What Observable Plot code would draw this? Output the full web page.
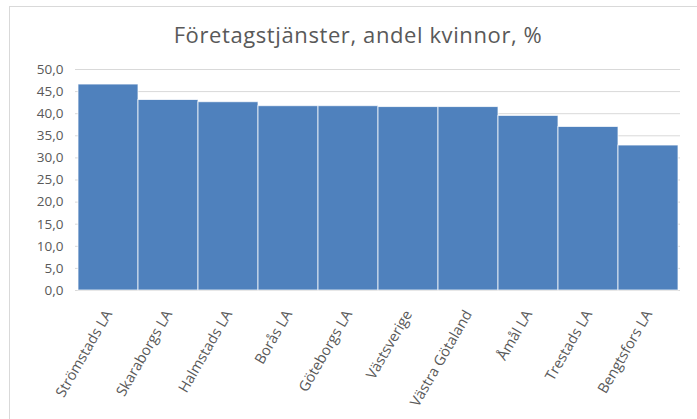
<!DOCTYPE html>
<html>
<head>
<meta charset="utf-8">
<script src="https://cdn.jsdelivr.net/npm/d3@7"></script>
<script src="https://cdn.jsdelivr.net/npm/@observablehq/plot@0.6"></script>
<style>
  html, body { margin: 0; padding: 0; background: #fff; }
  #wrap { position: relative; width: 697px; height: 419px; overflow: hidden; }
  #frame { position: absolute; left: 9px; top: 6px; width: 700px; height: 430px; border-left: 1px solid #d9d9d9; border-top: 1px solid #d9d9d9; box-sizing: border-box; pointer-events: none; }
  #chart { position: absolute; left: 0; top: 0; }
  #chart svg g[aria-label="text"] text { letter-spacing: 0.6px; }
</style>
</head>
<body>
<div id="wrap"><div id="frame"></div><div id="chart"></div></div>
<script>
const title = "Företagstjänster, andel kvinnor, %";
const categories = ["Strömstads LA", "Skaraborgs LA", "Halmstads LA", "Borås LA", "Göteborgs LA", "Västsverige", "Västra Götaland", "Åmål LA", "Trestads LA", "Bengtsfors LA"];
const values = [46.6, 43.1, 42.6, 41.7, 41.7, 41.5, 41.5, 39.5, 37.0, 32.8];
const yTicks = [0, 5, 10, 15, 20, 25, 30, 35, 40, 45, 50];

const data = categories.map((c, i) => ({category: c, value: values[i]}));
const fmt = v => v.toFixed(1).replace(".", ",");
const font = "'Open Sans', sans-serif";

const chart = Plot.plot({
  width: 697,
  height: 419,
  marginLeft: 75,
  marginRight: 17,
  marginTop: 69,
  marginBottom: 129,
  style: {fontFamily: font, background: "transparent", color: "#595959"},
  x: {domain: categories, padding: 0, label: null},
  y: {domain: [0, 50], label: null},
  marks: [
    Plot.gridY(yTicks, {stroke: "#d9d9d9", strokeOpacity: 1, strokeWidth: 1}),
    Plot.barY(data, {x: "category", y: "value", fill: "#4f81bd", stroke: "#ffffff", strokeWidth: 1, strokeOpacity: 0.75, inset: 0}),
    Plot.axisY(yTicks, {tickSize: 0, tickPadding: 12, tickFormat: fmt, fontSize: 13.5, fill: "#595959", label: null}),
    Plot.axisX({tickSize: 0, tickRotate: -60, tickPadding: 21, fontSize: 14.5, fill: "#595959", dx: 0, label: null}),
    Plot.text([title], {frameAnchor: "top", lineAnchor: "middle", dx: -20, dy: -34, fontSize: 22, fill: "#595959", fontFamily: font})
  ]
});
document.getElementById("chart").appendChild(chart);
</script>
</body>
</html>
